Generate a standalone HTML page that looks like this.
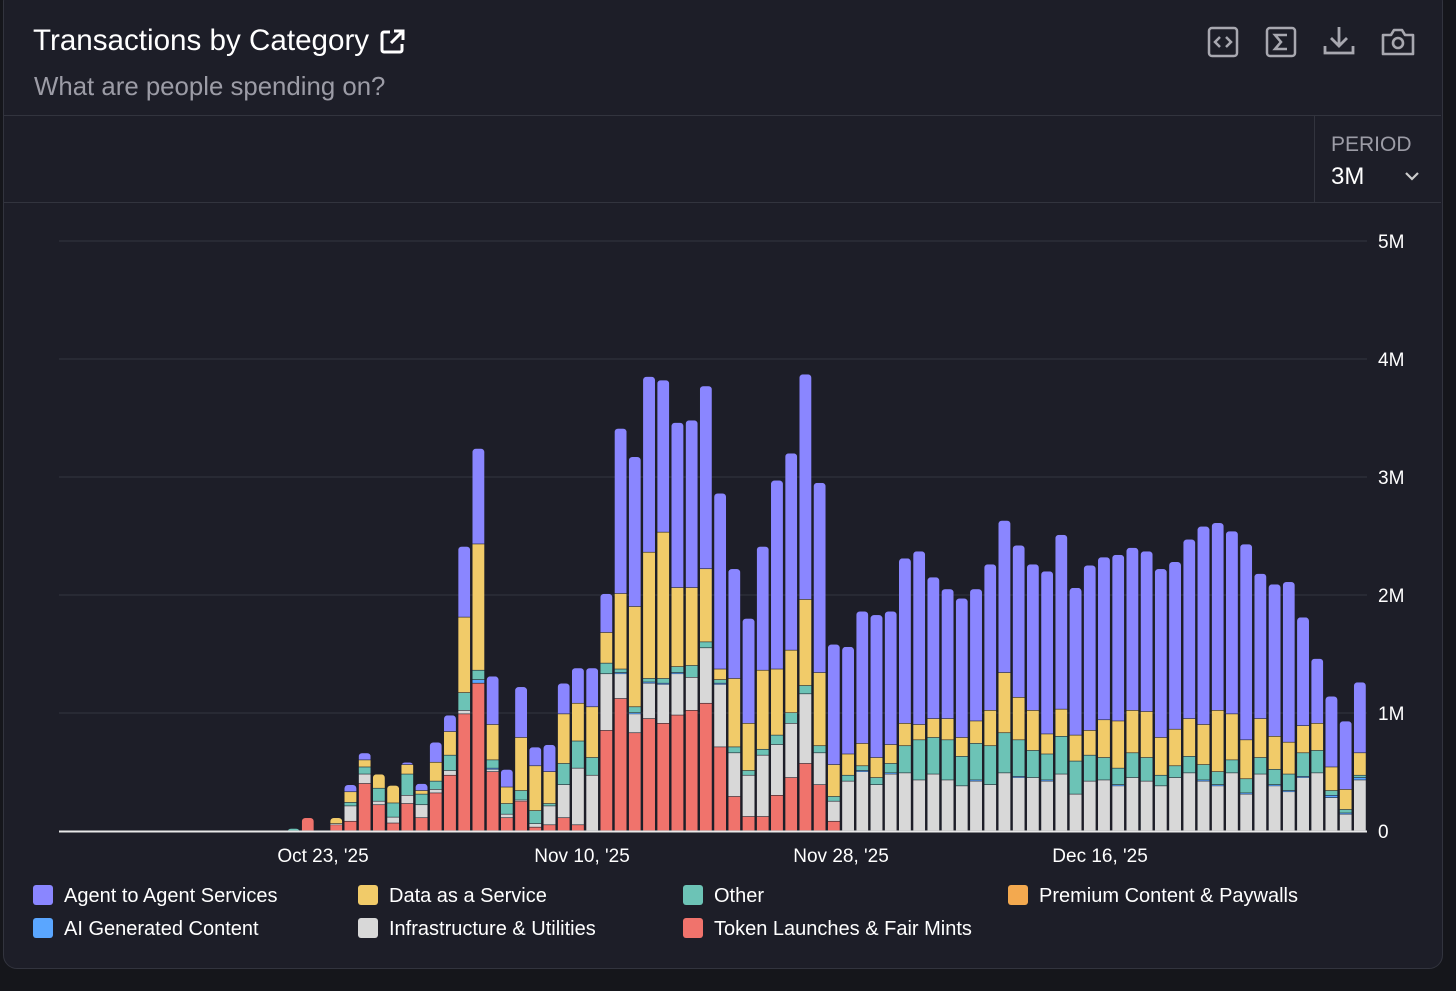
<!DOCTYPE html>
<html><head><meta charset="utf-8">
<style>
html,body{margin:0;padding:0;background:#15161b;width:1456px;height:991px;overflow:hidden;font-family:"Liberation Sans",sans-serif;}
#card{position:absolute;left:3px;top:-12px;width:1438px;height:979px;background:#1d1e28;border:1px solid #32343e;border-radius:14px;}
.t{position:absolute;white-space:nowrap;}
</style></head><body>
<div id="card"></div>
<div class="t" style="left:33px;top:24px;font-size:29.6px;color:#fff;">Transactions by Category</div>
<svg style="position:absolute;left:379px;top:28px" width="27" height="27" viewBox="0 0 27 27"><path d="M11 4H5a2 2 0 0 0-2 2v16a2 2 0 0 0 2 2h16a2 2 0 0 0 2-2v-6" fill="none" stroke="#fff" stroke-width="3"/><path d="M15 3h9v9M24 3L12 15" fill="none" stroke="#fff" stroke-width="3"/></svg>
<div class="t" style="left:34px;top:73px;font-size:25.8px;color:#9c9ca6;">What are people spending on?</div>
<svg style="position:absolute;left:1207px;top:26px" width="32" height="32"><rect x="2" y="2" width="28" height="28" rx="3" fill="none" stroke="#a8a8b0" stroke-width="2.5"/><path d="M13 11l-5 5 5 5M19 11l5 5-5 5" fill="none" stroke="#a8a8b0" stroke-width="2.5"/></svg>
<svg style="position:absolute;left:1265px;top:26px" width="32" height="32"><rect x="2" y="2" width="28" height="28" rx="3" fill="none" stroke="#a8a8b0" stroke-width="2.5"/><path d="M22 9H10l6 7-6 7h12" fill="none" stroke="#a8a8b0" stroke-width="2.5"/></svg>
<svg style="position:absolute;left:1322px;top:24px" width="34" height="34"><path d="M17 3v19M9 14l8 8 8-8M3 22v7h28v-7" fill="none" stroke="#a8a8b0" stroke-width="2.8"/></svg>
<svg style="position:absolute;left:1380px;top:26px" width="36" height="32"><path d="M3 9h8l3-5h8l3 5h8v19H3z" fill="none" stroke="#a8a8b0" stroke-width="2.6" stroke-linejoin="round"/><circle cx="18" cy="17" r="5" fill="none" stroke="#a8a8b0" stroke-width="2.6"/></svg>
<div style="position:absolute;left:4px;top:115px;width:1437px;height:1px;background:#32343e"></div>
<div style="position:absolute;left:4px;top:202px;width:1437px;height:1px;background:#32343e"></div>
<div style="position:absolute;left:1314px;top:116px;width:1px;height:86px;background:#32343e"></div>
<div class="t" style="left:1331px;top:133px;font-size:21px;color:#9c9ca6;">PERIOD</div>
<div class="t" style="left:1331px;top:163px;font-size:24px;color:#fff;">3M</div>
<svg style="position:absolute;left:1404px;top:170px" width="16" height="12"><path d="M2 3l6 6 6-6" fill="none" stroke="#ccc" stroke-width="2.2"/></svg>
<svg id="chart" style="position:absolute;left:0;top:0" width="1456" height="991"></svg>
<div id="legend"></div>
<script>
const dayIndex=[...Array(92).keys()];
const tickLabels=["Oct 23, '25","Nov 10, '25","Nov 28, '25","Dec 16, '25"];
const tickDays=[18,36,54,72];
const yTicks=[0,1,2,3,4,5];
const yTickLabels=["0","1M","2M","3M","4M","5M"];
const seriesNames=["Token Launches & Fair Mints","Infrastructure & Utilities","AI Generated Content","Other","Premium Content & Paywalls","Data as a Service","Agent to Agent Services"];
const seriesColors=["#f0736c","#d8d8d8","#5aa6ff","#6cc3b6","#f3a94f","#f1cb69","#8a86ff"];
const pad=n=>Array(n).fill(0);
const red=pad(16).concat([0,.11,0,.05,.08,.40,.22,.065,.23,.11,.32,.47,.99,1.25,.50,.11,.25,.03,.05,.11,.05,0,.85,1.12,.83,.95,.91,.98,1.02,1.08,.71,.29,.12,.12,.30,.45,.57,.39,.08],pad(37));
const infra=pad(16).concat([0,0,0,.01,.13,.08,.03,.05,.07,.11,.03,.04,.03,0,.02,.03,.01,.03,.16,.28,.48,.47,.48,.21,.16,.30,.33,.35,.28,.47,.53,.37,.35,.52,.43,.46,.59,.27,.17,.42,.50,.39,.48,.49,.43,.48,.43,.38,.42,.39,.49,.45,.45,.42,.48,.31,.42,.43,.38,.45,.42,.38,.45,.49,.42,.38,.49,.31,.48,.38,.33,.45,.49,.28,.14,.43]);
const ai=pad(29).concat([.03,.01],pad(8),[.01,.01,.01,.01,.01,0,0,.01],pad(9),[.01,0,.01],pad(5),[.01,0,0,.01,0,.01],pad(4),[.01],pad(5),[.01,.01,0,.01,0,.01,.01,.01,0,.02,.01,.02]);
const other=pad(16).concat([.02,0,0,0,.03,.06,.11,.12,.18,.09,.07,.13,.15,.08,.07,.09,.08,.11,.02,.18,.23,.15,.09,.03,.05,.03,.04,.05,.10,.05,.03,.05,.04,.05,.08,.09,.07,.06,.04,.05,.04,.06,.08,.23,.34,.31,.34,.25,.31,.33,.34,.31,.23,.22,.32,.28,.22,.19,.14,.21,.20,.09,.10,.14,.13,.11,.11,.12,.14,.13,.14,.20,.19,.04,.03,.02]);
const premium=pad(92);
const dataSvc=pad(16).concat([0,0,0,.05,.09,.06,.12,.15,.08,.03,.16,.20,.64,1.07,.30,.14,.45,.38,.27,.42,.32,.43,.26,.64,.85,1.07,1.24,.67,.66,.62,.09,.58,.40,.67,.56,.53,.73,.62,.27,.18,.19,.17,.16,.19,.13,.16,.18,.16,.19,.30,.51,.36,.34,.17,.23,.22,.21,.32,.40,.36,.39,.32,.31,.32,.34,.52,.39,.33,.33,.28,.27,.23,.23,.20,.17,.19]);
const agent=pad(16).concat([0,0,0,0,.06,.06,0,0,.02,.06,.17,.14,.60,.81,.41,.15,.43,.16,.23,.26,.30,.33,.33,1.40,1.27,1.49,1.29,1.40,1.42,1.55,1.49,.93,.89,1.05,1.60,1.67,1.91,1.61,1.02,.91,1.12,1.21,1.13,1.40,1.47,1.20,1.10,1.18,1.12,1.24,1.29,1.29,1.24,1.38,1.48,1.25,1.40,1.38,1.41,1.38,1.36,1.43,1.42,1.52,1.68,1.59,1.55,1.66,1.23,1.29,1.36,.92,.55,.60,.58,.60]);
const series=[red,infra,ai,other,premium,dataSvc,agent];

const NS="http://www.w3.org/2000/svg";
const svg=document.getElementById('chart');
const X0=59,X1=1367,Y0=831,PXM=118;
const band=(X1-X0)/dayIndex.length;
const x=i=>X0+band*(i+0.5);
const y=v=>Y0-v*PXM;
const tickX=d=>323+(d-18)*14.39;
function mk(tag,attrs){const e=document.createElementNS(NS,tag);for(const k in attrs)e.setAttribute(k,attrs[k]);svg.appendChild(e);return e;}
yTicks.forEach((t,k)=>{
  if(t>0){const g=mk('line',{x1:X0,x2:1367,y1:y(t),y2:y(t),stroke:'#33353f','stroke-width':1});
  
  }
  const tx=mk('text',{x:1378,y:y(t)+7,fill:'#fff','font-size':19,'font-family':'Liberation Sans, sans-serif'});
  tx.textContent=yTickLabels[k];
  
  
});
const defs=mk('defs',{});
const bw=band*0.84;
dayIndex.forEach(i=>{
  const tot=series.reduce((s,a)=>s+a[i],0);
  if(tot<=0)return;
  const cp=document.createElementNS(NS,'clipPath');cp.setAttribute('id','c'+i);
  const r=document.createElementNS(NS,'rect');
  r.setAttribute('x',x(i)-bw/2);r.setAttribute('y',y(tot));r.setAttribute('width',bw);r.setAttribute('height',tot*PXM+4);r.setAttribute('rx',3.5);
  cp.appendChild(r);defs.appendChild(cp);
  const g=mk('g',{'clip-path':'url(#c'+i+')'});
  
  
  let cum=0;
  series.forEach((s,k)=>{
    const v=s[i];if(v<=0)return;
    const rr=document.createElementNS(NS,'rect');
    rr.setAttribute('x',x(i)-bw/2);rr.setAttribute('y',y(cum+v));rr.setAttribute('width',bw);rr.setAttribute('height',Math.max(v*PXM-0.6,0.8));rr.setAttribute('fill',seriesColors[k]);
    
    
    g.appendChild(rr);cum+=v;
  });
});
const base=mk('line',{x1:X0,x2:X1,y1:Y0+0.5,y2:Y0+0.5,stroke:'#e8e8e8','stroke-width':2});


tickDays.forEach((d,k)=>{
  const tx=mk('text',{x:tickX(d),y:862,fill:'#fff','font-size':19,'text-anchor':'middle','font-family':'Liberation Sans, sans-serif'});
  tx.textContent=tickLabels[k];
  
  
});
const legendOrder=[6,5,3,4,2,1,0];
const legPos=[[33,885],[358,885],[683,885],[1008,885],[33,918],[358,918],[683,918]];
const leg=document.getElementById('legend');
legendOrder.forEach((k,j)=>{
  const d=document.createElement('div');
  
  
  d.style.cssText='position:absolute;left:'+legPos[j][0]+'px;top:'+legPos[j][1]+'px;height:22px;white-space:nowrap;font-size:20px;color:#fff;line-height:22px;';
  const sw=document.createElement('span');
  
  
  sw.style.cssText='display:inline-block;width:20px;height:20px;border-radius:3px;vertical-align:top;margin-right:11px;background:'+seriesColors[k];
  d.appendChild(sw);d.appendChild(document.createTextNode(seriesNames[k]));
  leg.appendChild(d);
});
</script>
</body></html>
